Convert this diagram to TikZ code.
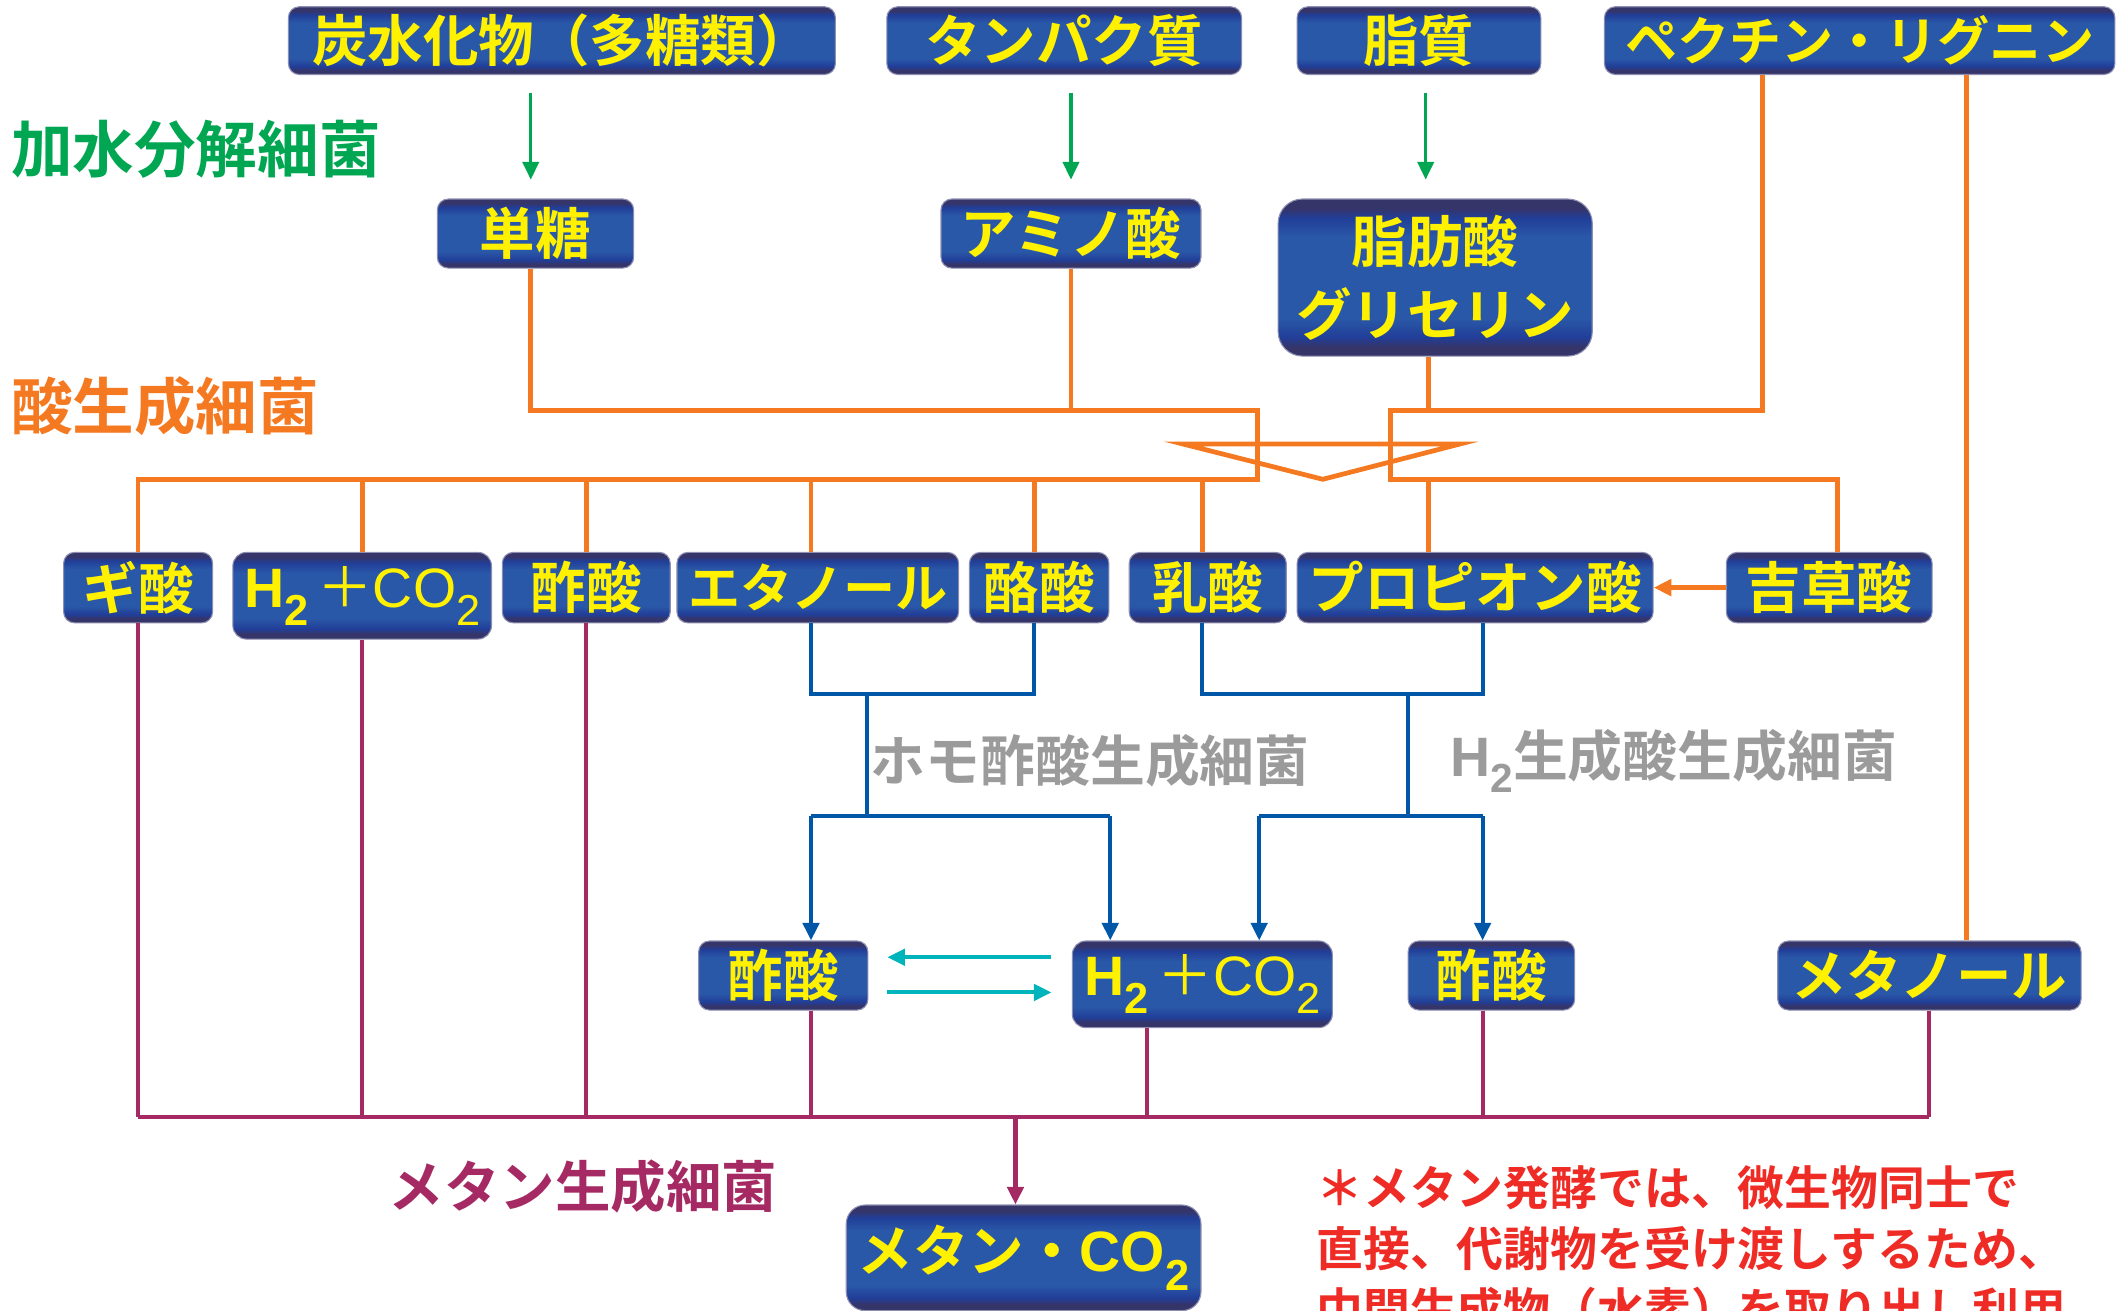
\documentclass[tikz,border=0pt]{standalone}
\usepackage{fontspec}
\usetikzlibrary{arrows.meta,calc}
\newfontfamily\jp{Noto Sans CJK JP}[BoldFont={Noto Sans CJK JP Bold}]
\newfontfamily\lat{Liberation Sans}
\definecolor{greenL}{HTML}{00A651}
\definecolor{orangeL}{HTML}{F47920}
\definecolor{purpleL}{HTML}{A52A64}
\definecolor{blueL}{HTML}{0057A8}
\definecolor{cyanL}{HTML}{00B4BC}
\definecolor{grayT}{HTML}{9B9B9B}
\definecolor{redT}{HTML}{EE2B24}
\definecolor{ytext}{HTML}{FFF100}
\definecolor{bdark}{HTML}{35356A}
\definecolor{bband}{HTML}{213E98}
\definecolor{bmid}{HTML}{2A58A8}
\definecolor{boxedge}{HTML}{8E8EB0}
\pgfdeclareverticalshading{boxshade}{100bp}{color(0bp)=(bdark); color(25bp)=(bdark); color(28bp)=(bdark); color(31bp)=(bband); color(37bp)=(bmid); color(63bp)=(bmid); color(69bp)=(bband); color(72bp)=(bdark); color(75bp)=(bdark); color(100bp)=(bdark)}
\newcommand{\subn}[1]{\raisebox{-0.32em}{\fontsize{32}{32}\selectfont #1}}
\newcommand{\HCO}{{\lat\bfseries H\subn{2}}\,{\jp\mdseries ＋}{\lat\mdseries CO\subn{2}}}
\begin{document}
\begin{tikzpicture}[x=1pt,y=-1pt,
  box/.style={shading=boxshade, draw=boxedge, line width=0.8pt, rounded corners=8pt,
    text=ytext, inner sep=0pt, align=center,
    font=\jp\bfseries\fontsize{41}{54}\selectfont},
  lbl/.style={anchor=west, inner sep=0pt, font=\jp\bfseries\fontsize{45.5}{50}\selectfont},
  glbl/.style={anchor=west, inner sep=0pt, text=grayT, font=\jp\bfseries\fontsize{40.5}{46}\selectfont},
  tip/.style={-{Triangle[length=13pt,width=12pt]}},
  garrow/.style={draw=greenL, line width=2.5pt, tip},
  oline/.style={draw=orangeL, line width=3.5pt},
  oarrow/.style={oline, tip},
  bline/.style={draw=blueL, line width=3pt},
  barrow/.style={bline, tip},
  pline/.style={draw=purpleL, line width=3pt},
  parrow/.style={pline, tip},
  carrow/.style={draw=cyanL, line width=3pt, tip}]
\useasboundingbox (0,0) rectangle (1568,968);
\clip (0,0) rectangle (1568,968);

% top row
\node[box, minimum width=404, minimum height=50] (t1) at (415,30) {炭水化物（多糖類）};
\node[box, minimum width=262, minimum height=50] (t2) at (786,30) {タンパク質};
\node[box, minimum width=180, minimum height=50] (t3) at (1048,30) {脂質};
\node[box, minimum width=377, minimum height=50, font=\jp\bfseries\fontsize{38.5}{44}\selectfont] (t4) at (1373.5,30) {ペクチン・リグニン};

% second row
\node[box, minimum width=145, minimum height=51] (m1) at (395.5,172.5) {単糖};
\node[box, minimum width=192, minimum height=51] (m2) at (791,172.5) {アミノ酸};
\node[box, minimum width=232, minimum height=116, rounded corners=18pt] (m3) at (1060,205) {脂肪酸\\グリセリン};

% third row
\node[box, minimum width=110, minimum height=52] (r1) at (102,434) {ギ酸};
\node[box, minimum width=191, minimum height=64, rounded corners=10pt] (r2) at (267.5,440) {\HCO};
\node[box, minimum width=124, minimum height=52] (r3) at (433,434) {酢酸};
\node[box, minimum width=208, minimum height=52, font=\jp\bfseries\fontsize{38.5}{44}\selectfont] (r4) at (604,434) {エタノール};
\node[box, minimum width=103, minimum height=52] (r5) at (767.5,434) {酪酸};
\node[box, minimum width=116, minimum height=52] (r6) at (892,434) {乳酸};
\node[box, minimum width=263, minimum height=52] (r7) at (1089.5,434) {プロピオン酸};
\node[box, minimum width=152, minimum height=52] (r8) at (1351,434) {吉草酸};

% fourth row
\node[box, minimum width=125, minimum height=51] (b1) at (578.5,720.5) {酢酸};
\node[box, minimum width=192, minimum height=64, rounded corners=10pt] (b2) at (888,727) {\HCO};
\node[box, minimum width=123, minimum height=51] (b3) at (1101.5,720.5) {酢酸};
\node[box, minimum width=224, minimum height=51] (b4) at (1425,720.5) {メタノール};

% final
\node[box, minimum width=262, minimum height=78, rounded corners=14pt] (f) at (756,929) {メタン・{\lat\bfseries\fontsize{42}{48}\selectfont CO\subn{2}}};

% labels
\node[lbl, text=greenL] (lg) at (8,110) {加水分解細菌};
\node[lbl, text=orangeL] (lo) at (8,300) {酸生成細菌};
\node[lbl, text=purpleL, font=\jp\bfseries\fontsize{41}{46}\selectfont] (lp) at (287,876) {メタン生成細菌};
\node[glbl] (lh) at (643,562) {ホモ酢酸生成細菌};
\node[glbl] (lh2) at (1071,562) {{\lat\bfseries\fontsize{41}{46}\selectfont H\raisebox{-0.3em}{\fontsize{30}{30}\selectfont 2}}生成酸生成細菌};
\node[anchor=north west, inner sep=0pt, text=redT, align=left,
      font=\jp\bfseries\fontsize{34.6}{45}\selectfont] (note) at (972,861)
  {＊メタン発酵では、微生物同士で\\直接、代謝物を受け渡しするため、\\中間生成物（水素）を取り出し利用};

% green arrows
\draw[garrow] ($(t1.south)+(-23,13)$) -- ($(m1.north)+(-3.5,-14)$);
\draw[garrow] ($(t2.south)+(5,13)$) -- ($(m2.north)+(0,-14)$);
\draw[garrow] ($(t3.south)+(5,13)$) -- ($(m3.north)+(-7,-14)$);

% orange network
\coordinate (jL) at (929,303);
\coordinate (jLb) at (929,354);
\coordinate (jR) at (1027,303);
\coordinate (jRb) at (1027,354);
\coordinate (m1d) at ($(m1.south)+(-3.5,0)$);
\coordinate (m3d) at ($(m3.south)+(-5,0)$);
\coordinate (t4a) at ($(t4.south west)+(117,0)$);
\coordinate (t4b) at ($(t4.south west)+(268,0)$);
\coordinate (r8n) at ($(r8.north)+(6,0)$);
\draw[oline] (m1d) |- (jL) -- (jLb) -| (r1.north);
\draw[oline] (m2.south) -- (m2.south |- jL);
\draw[oline] (m3d) -- (m3d |- jR);
\draw[oline] (t4a) |- (jR) -- (jRb) -| (r8n);
\draw[oline] (t4b) -- (t4b |- b4.north);
\draw[oline] (r2.north) -- (r2.north |- jLb);
\draw[oline] (r3.north) -- (r3.north |- jLb);
\coordinate (r4n) at ($(r4.north)+(-5,0)$);
\coordinate (r5n) at ($(r5.north)+(-3.5,0)$);
\coordinate (r6n) at ($(r6.north)+(-4,0)$);
\coordinate (r7n) at ($(r7.north)+(-34.5,0)$);
\draw[oline] (r4n) -- (r4n |- jLb);
\draw[oline] (r5n) -- (r5n |- jLb);
\draw[oline] (r6n) -- (r6n |- jLb);
\draw[oline] (r7n) -- (r7n |- jRb);
\draw[oline, line join=miter] (874,328) -- (1078,328) -- (977,354) -- cycle;
\draw[oarrow] (r8.west) -- (r7.east);

% blue network
\coordinate (e1) at ($(r4.south)+(-5,0)$);
\coordinate (e2) at ($(r5.south)+(-3.5,0)$);
\draw[bline] (e1) -- ++(0,52) -| (e2);
\coordinate (hA) at (640,512);
\coordinate (hB) at (640,603);
\draw[bline] (hA) -- (hB);
\coordinate (a1) at ($(b1.north)+(20.5,0)$);
\coordinate (a2) at ($(b2.north)+(-68,0)$);
\draw[bline] (a1 |- hB) -- (a2 |- hB);
\draw[barrow] (a1 |- hB) -- (a1);
\draw[barrow] (a2 |- hB) -- (a2);
\coordinate (e3) at ($(r6.south)+(-4,0)$);
\coordinate (e4) at ($(r7.south)+(5.5,0)$);
\draw[bline] (e3) -- ++(0,52) -| (e4);
\coordinate (hC) at (1040,512);
\coordinate (hD) at (1040,603);
\draw[bline] (hC) -- (hD);
\coordinate (a3) at ($(b2.north)+(42,0)$);
\coordinate (a4) at ($(b3.north)+(-6.5,0)$);
\draw[bline] (a3 |- hD) -- (a4 |- hD);
\draw[barrow] (a3 |- hD) -- (a3);
\draw[barrow] (a4 |- hD) -- (a4);

% cyan equilibrium arrows
\draw[carrow] ($(b2.west)+(-15,-20)$) -- ($(b1.east)+(14,-13.5)$);
\draw[carrow] ($(b1.east)+(14,12.5)$) -- ($(b2.west)+(-15,6)$);

% purple network
\coordinate (pb) at (0,825);
\coordinate (q1) at ($(b1.south)+(20.5,0)$);
\coordinate (q2) at ($(b2.south)+(-41,0)$);
\coordinate (q3) at ($(b3.south)+(-6.5,0)$);
\draw[pline] (r1.south) -- (r1.south |- pb);
\draw[pline] (r2.south) -- (r2.south |- pb);
\draw[pline] (r3.south) -- (r3.south |- pb);
\draw[pline] (q1) -- (q1 |- pb);
\draw[pline] (q2) -- (q2 |- pb);
\draw[pline] (q3) -- (q3 |- pb);
\draw[pline] (b4.south) -- (b4.south |- pb);
\draw[pline] (r1.south |- pb) -- (b4.south |- pb);
\coordinate (q0) at (750,825);
\draw[parrow] (q0) -- (q0 |- f.north);
\end{tikzpicture}
\end{document}
